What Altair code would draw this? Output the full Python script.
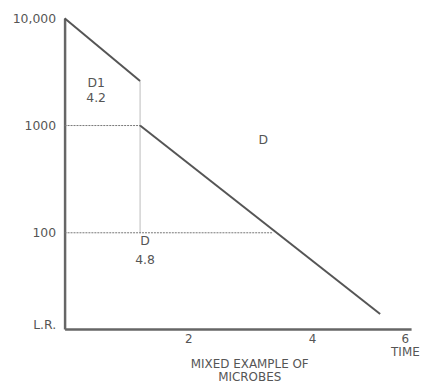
import altair as alt
import pandas as pd

# main decline segments (time, survivors)
seg_names = ["D1", "D1", "D", "D"]
seg_t = [0, 1.22, 1.22, 5.1]
seg_n = [10000, 2600, 1000, 17.5]

# thin vertical guide
guide_t = [1.22, 1.22]
guide_n = [2600, 100]

# dotted reference lines
ref_names = ["1000", "1000", "100", "100"]
ref_t = [0, 1.22, 0, 3.37]
ref_n = [1000, 1000, 100, 100]

# annotations
ann_text = ["D1", "4.2", "D", "4.8", "D"]
ann_t = [0.51, 0.51, 1.3, 1.3, 3.21]
ann_n = [2500, 1820, 83, 56, 725]

x_ticks = [2, 4, 5.5]
x_tick_labels = ["2", "4", "6"]
y_ticks = [10000, 1000, 100, 14]
y_tick_labels = ["10,000", "1000", "100", "L.R."]

FONT = "DejaVu Sans"
GREY = "#555555"


def label_expr(values, labels, extra=None):
    expr = "datum.label"
    for v, l in zip(values, labels):
        lab = "'" + l + "'"
        if extra and l in extra:
            lab = "['" + l + "','" + extra[l] + "']"
        expr = f"datum.value == {v} ? {lab} : ({expr})"
    return expr


xscale = alt.Scale(domain=[0, 5.6], nice=False, zero=False)
yscale = alt.Scale(type="log", domain=[12.65, 10000], nice=False)

seg_df = pd.DataFrame({"seg": seg_names, "t": seg_t, "n": seg_n})
guide_df = pd.DataFrame({"t": guide_t, "n": guide_n})
ref_df = pd.DataFrame({"ref": ref_names, "t": ref_t, "n": ref_n})
ann_df = pd.DataFrame({"text": ann_text, "t": ann_t, "n": ann_n})

xaxis = alt.Axis(
    values=x_ticks,
    labelExpr=label_expr(x_ticks, x_tick_labels, {"6": "TIME"}),
    title=["MIXED EXAMPLE OF", "MICROBES"],
    titleX=186,
    grid=False,
    ticks=False,
    domainColor="#666666",
    domainWidth=2.5,
    labelFont=FONT,
    labelFontSize=12,
    labelColor=GREY,
    labelPadding=5,
    labelLineHeight=13,
    titleFont=FONT,
    titleFontSize=12,
    titleFontWeight="normal",
    titleColor=GREY,
    titlePadding=1,
    titleLineHeight=13,
)
yaxis = alt.Axis(
    values=y_ticks,
    labelExpr=label_expr(y_ticks, y_tick_labels),
    title=None,
    grid=False,
    ticks=False,
    domainColor="#666666",
    domainWidth=2.5,
    labelFont=FONT,
    labelFontSize=12.5,
    labelColor=GREY,
    labelPadding=9,
)

base_x = alt.X("t:Q", scale=xscale, axis=xaxis)
base_y = alt.Y("n:Q", scale=yscale, axis=yaxis)

guide = alt.Chart(guide_df).mark_line(color="#bbbbbb", strokeWidth=1).encode(
    x=base_x, y=base_y
)
refs = alt.Chart(ref_df).mark_line(
    color="#777777", strokeWidth=1, strokeDash=[2, 1]
).encode(x=base_x, y=base_y, detail="ref:N")
segs = alt.Chart(seg_df).mark_line(color=GREY, strokeWidth=2).encode(
    x=base_x, y=base_y, detail="seg:N"
)
anns = alt.Chart(ann_df).mark_text(
    font=FONT, fontSize=12.5, color=GREY
).encode(x=base_x, y=base_y, text="text:N")

chart = (
    alt.layer(guide, refs, segs, anns)
    .properties(
        width=349,
        height=313,
        autosize=alt.AutoSizeParams(type="none"),
        padding={"left": 57, "top": 9, "right": 11, "bottom": 58},
        view=alt.ViewBackground(stroke="transparent", strokeWidth=0, strokeOpacity=0),
    )
    .configure_view(strokeWidth=0, stroke="transparent", strokeOpacity=0)
    .configure(background="white")
)

chart.save("out.html", embed_options={"renderer": "svg", "actions": False})
